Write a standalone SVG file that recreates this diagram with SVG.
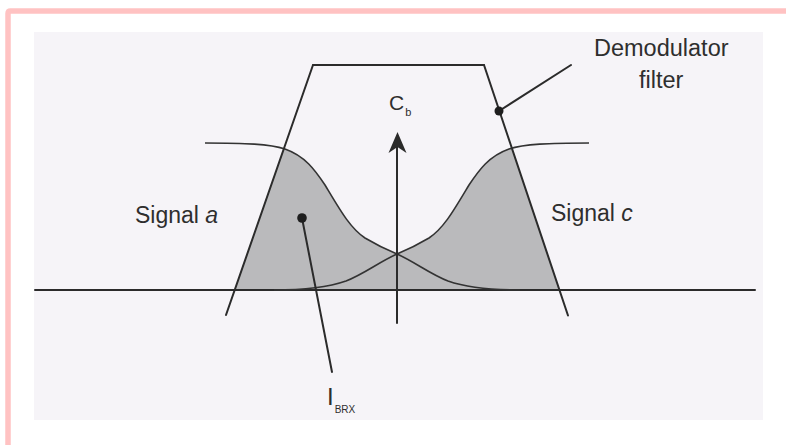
<svg xmlns="http://www.w3.org/2000/svg" width="786" height="445" viewBox="0 0 786 445">
  <style>
    .ln { fill: none; stroke: #2b2b2b; stroke-width: 2; stroke-linecap: round; stroke-linejoin: round; }
    .cv { fill: none; stroke: #333; stroke-width: 1.6; }
    .tx { font-family: "Liberation Sans", Arial, sans-serif; fill: #2e2e2e; }
    .dot { fill: #1e1e1e; }
  </style>
  <defs>
    <clipPath id="trap">
      <polygon points="313,65 484,65 559.4,290 234.7,290"/>
    </clipPath>
  </defs>

  <!-- page / frame -->
  <rect x="0" y="0" width="786" height="445" fill="#ffffff"/>
  <path d="M8,447 L8,13.5 Q8,11 10.5,11 L790,11" fill="none" stroke="#ffc2c2" stroke-width="5.5"/>
  <rect x="34" y="32" width="729" height="388" fill="#f6f4f8"/>

  <!-- shaded region -->
  <g id="shading">
    <path clip-path="url(#trap)" fill="#bababc" d="M205,143 C245,143 270,144 285,149 C305,156 315,170 325,185 C340,210 350,228 365,238 C375,244 385,249 397,254 C409,249 419,244 429,238 C444,228 454,210 469,185 C479,170 489,156 509,149 C524,144 549,143 589,143 L589,290 L205,290 Z"/>
  </g>

  <!-- baseline -->
  <g id="axis">
    <line class="ln" x1="35" y1="290" x2="755" y2="290" stroke="#3a3a3a"/>
  </g>

  <!-- signal curves -->
  <g id="signal-a-curve">
    <path class="cv" d="M205,143 C245,143 270,144 285,149 C305,156 315,170 325,185 C340,210 350,228 365,238 C375,244 385,249 397,254 C415,262 430,274 448,281 C468,288 490,290 520,290"/>
  </g>
  <g id="signal-c-curve">
    <path class="cv" d="M589,143 C549,143 524,144 509,149 C489,156 479,170 469,185 C454,210 444,228 429,238 C419,244 409,249 397,254 C379,262 364,274 346,281 C326,288 304,290 274,290"/>
  </g>

  <!-- demodulator filter trapezoid -->
  <g id="demodulator-filter">
    <path class="ln" d="M226,315 L313,65 L484,65 L568,315.5"/>
    <line class="ln" x1="313" y1="65" x2="484" y2="65" stroke-width="3"/>
  </g>

  <!-- Cb carrier arrow -->
  <g id="cb-arrow">
    <line class="ln" x1="397" y1="323" x2="397" y2="140" stroke-width="2"/>
    <path d="M397.5,132 L388.5,153 L397.5,147 L406.5,153 Z" fill="#2b2b2b"/>
  </g>

  <!-- labels -->
  <g id="label-demodulator">
    <text class="tx" x="594" y="56" font-size="23.5">Demodulator</text>
    <text class="tx" x="639" y="88" font-size="23.5">filter</text>
  </g>
  <g id="label-cb">
    <text class="tx" x="389" y="110" font-size="21">C<tspan font-size="11" dx="1" dy="6">b</tspan></text>
  </g>
  <g id="label-signal-a">
    <text class="tx" x="135" y="223" font-size="23">Signal <tspan font-style="italic">a</tspan></text>
  </g>
  <g id="label-signal-c">
    <text class="tx" x="551" y="221" font-size="23">Signal <tspan font-style="italic">c</tspan></text>
  </g>
  <g id="label-ibrx">
    <text class="tx" x="327" y="405" font-size="24">I<tspan font-size="10" dx="1" dy="8">BRX</tspan></text>
  </g>

  <!-- connectors (pointer lines) -->
  <g id="connectors">
    <line class="ln" x1="499" y1="111" x2="571" y2="65" stroke-width="1.6"/>
    <circle class="dot" cx="499" cy="111" r="4.5"/>
    <line class="ln" x1="302" y1="218" x2="332" y2="372" stroke-width="1.8"/>
    <circle class="dot" cx="302" cy="218" r="4.8"/>
  </g>
</svg>
